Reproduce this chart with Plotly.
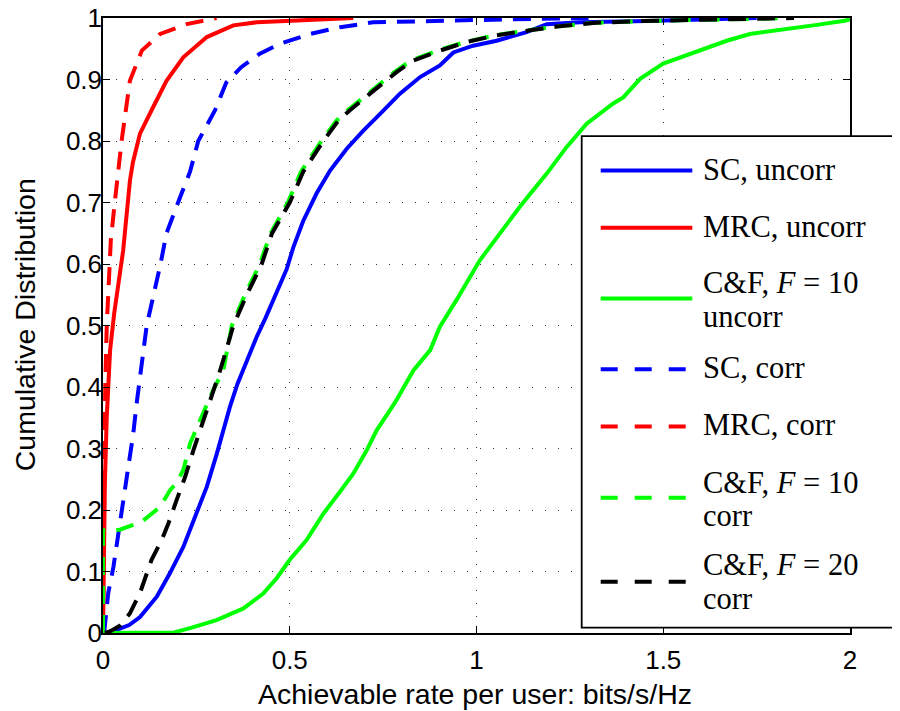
import plotly.graph_objects as go

# ---------------- data ----------------
sc_uncorr_x = [0.01, 0.037, 0.07, 0.099, 0.144, 0.179, 0.215, 0.251, 0.278, 0.304, 0.322, 0.34,
               0.36, 0.385, 0.411, 0.435, 0.456, 0.475, 0.492, 0.51, 0.536, 0.572, 0.608, 0.652,
               0.697, 0.742, 0.795, 0.849, 0.902, 0.938, 0.991, 1.054, 1.134, 1.188, 1.277, 1.456,
               1.6, 1.75]
sc_uncorr_y = [0.0, 0.005, 0.013, 0.026, 0.059, 0.097, 0.14, 0.194, 0.238, 0.29, 0.33, 0.368,
               0.405, 0.444, 0.481, 0.512, 0.541, 0.567, 0.592, 0.628, 0.67, 0.715, 0.752, 0.787,
               0.817, 0.844, 0.877, 0.904, 0.923, 0.944, 0.955, 0.963, 0.977, 0.99, 0.993, 0.995,
               0.998, 1.0]

mrc_uncorr_x = [0.0, 0.001, 0.003, 0.005, 0.010, 0.019, 0.030, 0.042, 0.054, 0.06, 0.065, 0.072,
                0.08, 0.099, 0.130, 0.170, 0.215, 0.278, 0.349, 0.411, 0.52, 0.67]
mrc_uncorr_y = [0.0, 0.05, 0.15, 0.243, 0.351, 0.46, 0.52, 0.57, 0.622, 0.66, 0.7, 0.735,
                0.765, 0.812, 0.85, 0.898, 0.936, 0.969, 0.988, 0.993, 0.996, 1.0]

cf10_uncorr_x = [0.0, 0.1, 0.19, 0.233, 0.304, 0.376, 0.429, 0.465, 0.50, 0.545, 0.59, 0.635,
                 0.670, 0.706, 0.733, 0.768, 0.786, 0.831, 0.876, 0.902, 0.947, 1.009, 1.063,
                 1.116, 1.188, 1.241, 1.295, 1.366, 1.393, 1.438, 1.5, 1.572, 1.67, 1.732, 1.813,
                 1.902, 1.99, 2.0]
cf10_uncorr_y = [0.0, 0.0, 0.001, 0.008, 0.021, 0.040, 0.064, 0.089, 0.119, 0.151, 0.194, 0.230,
                 0.259, 0.297, 0.33, 0.362, 0.379, 0.427, 0.46, 0.498, 0.542, 0.606, 0.649,
                 0.693, 0.747, 0.79, 0.828, 0.861, 0.871, 0.901, 0.926, 0.942, 0.963, 0.974, 0.98,
                 0.988, 0.996, 0.998]

sc_corr_x = [0.003, 0.014, 0.028, 0.041, 0.054, 0.068, 0.081, 0.09, 0.117, 0.154, 0.170, 0.201,
             0.233, 0.255, 0.30, 0.33, 0.37, 0.42, 0.474, 0.554, 0.635, 0.723, 0.9, 1.1, 1.3]
sc_corr_y = [0.0, 0.065, 0.108, 0.162, 0.216, 0.27, 0.324, 0.373, 0.5, 0.6, 0.65, 0.7,
             0.75, 0.8, 0.85, 0.895, 0.92, 0.942, 0.958, 0.974, 0.985, 0.993, 0.996, 0.998, 1.0]

mrc_corr_x = [0.0, 0.001, 0.003, 0.006, 0.010, 0.015, 0.021, 0.032, 0.05, 0.072, 0.104, 0.153,
              0.224, 0.304]
mrc_corr_y = [0.0, 0.1, 0.25, 0.4, 0.5, 0.57, 0.639, 0.703, 0.801, 0.898, 0.947, 0.974,
              0.99, 1.0]

cf10_corr_x = [0.0, 0.0, 0.02, 0.045, 0.077, 0.104, 0.126, 0.153, 0.179, 0.197, 0.215, 0.233,
               0.26, 0.295, 0.322, 0.345, 0.38, 0.42, 0.448, 0.495, 0.53, 0.585, 0.625, 0.655,
               0.71, 0.755, 0.78, 0.825, 0.895, 0.97, 1.05, 1.14, 1.21, 1.31, 1.44, 1.6, 1.74, 1.85]
cf10_corr_y = [0.0, 0.167, 0.167, 0.168, 0.175, 0.181, 0.192, 0.205, 0.232, 0.244, 0.265, 0.308,
               0.346, 0.395, 0.427, 0.5, 0.55, 0.6, 0.649, 0.7, 0.75, 0.8, 0.833, 0.85,
               0.877, 0.9, 0.912, 0.931, 0.947, 0.961, 0.972, 0.98, 0.986, 0.992, 0.995, 0.997,
               0.998, 1.0]

cf20_corr_x = [0.005, 0.02, 0.045, 0.072, 0.099, 0.13, 0.157, 0.175, 0.197, 0.22, 0.242, 0.26,
               0.286, 0.31, 0.33, 0.349, 0.385, 0.425, 0.452, 0.50, 0.536, 0.59, 0.63, 0.661,
               0.715, 0.763, 0.786, 0.831, 0.902, 0.974, 1.054, 1.143, 1.215, 1.312, 1.44, 1.6,
               1.74, 1.85]
cf20_corr_y = [0.0, 0.003, 0.012, 0.032, 0.065, 0.119, 0.151, 0.178, 0.216, 0.254, 0.297, 0.33,
               0.373, 0.42, 0.46, 0.5, 0.55, 0.6, 0.649, 0.7, 0.75, 0.8, 0.833, 0.85,
               0.877, 0.9, 0.912, 0.931, 0.947, 0.961, 0.972, 0.98, 0.986, 0.992, 0.995, 0.997,
               0.998, 1.0]

x_ticks = [0, 0.5, 1, 1.5, 2]
x_tick_labels = ["0", "0.5", "1", "1.5", "2"]
y_ticks = [0, 0.1, 0.2, 0.3, 0.4, 0.5, 0.6, 0.7, 0.8, 0.9, 1]
y_tick_labels = ["0", "0.1", "0.2", "0.3", "0.4", "0.5", "0.6", "0.7", "0.8", "0.9", "1"]

x_title = "Achievable rate per user: bits/s/Hz"
y_title = "Cumulative Distribution"

series = [
    ("SC, uncorr", None, sc_uncorr_x, sc_uncorr_y, "#0000FF", "solid"),
    ("MRC, uncorr", None, mrc_uncorr_x, mrc_uncorr_y, "#FF0000", "solid"),
    ("C&amp;F, <i>F</i> = 10", "uncorr", cf10_uncorr_x, cf10_uncorr_y, "#00FF00", "solid"),
    ("SC, corr", None, sc_corr_x, sc_corr_y, "#0000FF", "dash"),
    ("MRC, corr", None, mrc_corr_x, mrc_corr_y, "#FF0000", "dash"),
    ("C&amp;F, <i>F</i> = 10", "corr", cf10_corr_x, cf10_corr_y, "#00FF00", "dash"),
    ("C&amp;F, <i>F</i> = 20", "corr", cf20_corr_x, cf20_corr_y, "#000000", "dash"),
]

# ---------------- figure ----------------
# the page body adds an 8 px offset, so the figure is 8 px smaller than the window
OFF = 8
W, H = 892, 703
L, R, T, B = 95, 50, 9.5, 78
pw, ph = W - L - R, H - T - B

def px(xp):  # window pixel -> paper x
    return (xp - OFF - L) / pw

def py(yp):  # window pixel -> paper y
    return (H - B - (yp - OFF)) / ph

SANS = "Arial, Liberation Sans, sans-serif"
SERIF = "Liberation Serif, Times New Roman, serif"

fig = go.Figure()
for name, name2, xs, ys, col, ds in series:
    fig.add_trace(go.Scatter(
        x=xs, y=ys, mode="lines", showlegend=False,
        line=dict(color=col, width=4, dash=("18px,11px" if ds == "dash" else "solid")),
    ))

axis_common = dict(
    showline=True, linecolor="black", linewidth=1.5, mirror="ticks",
    ticks="inside", ticklen=7, tickwidth=1, tickcolor="black",
    showgrid=True, gridcolor="#333333", gridwidth=1, griddash="1px,12px",
    zeroline=False, automargin=False, ticklabeloverflow="allow",
    tickfont=dict(family=SANS, size=26, color="black"),
)

fig.update_xaxes(range=[0, 2], tickvals=x_ticks, ticktext=x_tick_labels,
                 ticklabelstandoff=3, **axis_common)
fig.update_yaxes(range=[0, 1], tickvals=y_ticks, ticktext=y_tick_labels,
                 ticklabelstandoff=-6, **axis_common)

shapes = []
annotations = []

# axis titles
annotations.append(dict(xref="paper", yref="paper", x=px(475), y=py(694), text=x_title,
                        showarrow=False, xanchor="center", yanchor="middle",
                        font=dict(family=SANS, size=28.5, color="black")))
annotations.append(dict(xref="paper", yref="paper", x=px(25), y=py(325), text=y_title,
                        showarrow=False, xanchor="center", yanchor="middle", textangle=-90,
                        font=dict(family=SANS, size=28.5, color="black")))

# ---------------- legend (drawn manually, box runs past the right edge) ----------------
shapes.append(dict(type="rect", xref="paper", yref="paper",
                   x0=px(581.7), x1=px(915), y0=py(627.7), y1=py(135.7),
                   line=dict(color="black", width=1.8), fillcolor="white", layer="above"))

rows = [  # (sample line y px, first text baseline, second text baseline)
    (170.0, 178.3, None),
    (227.3, 236.0, None),
    (298.3, 291.7, 325.7),
    (369.0, 376.7, None),
    (426.3, 434.0, None),
    (497.7, 491.7, 525.0),
    (581.7, 574.0, 608.3),
]
fs = 30.5
for (name, name2, xs, ys, col, ds), (ly, b1, b2) in zip(series, rows):
    x1 = 692.3 if ds == "solid" else 686.5
    shapes.append(dict(type="line", xref="paper", yref="paper",
                       x0=px(600.7), x1=px(x1), y0=py(ly), y1=py(ly),
                       line=dict(color=col, width=4, dash=("17px,17px" if ds == "dash" else "solid")),
                       layer="above"))
    for txt, base in ((name, b1), (name2, b2)):
        if txt is None:
            continue
        annotations.append(dict(xref="paper", yref="paper", x=px(701), y=py(base - 0.3 * fs),
                                text=txt, showarrow=False, xanchor="left", yanchor="middle",
                                font=dict(family=SERIF, size=fs, color="black")))

fig.update_layout(
    width=W, height=H,
    margin=dict(l=L, r=R, t=T, b=B, pad=0, autoexpand=False),
    paper_bgcolor="white", plot_bgcolor="white",
    shapes=shapes, annotations=annotations,
    showlegend=False,
)

fig.write_html("out.html")
